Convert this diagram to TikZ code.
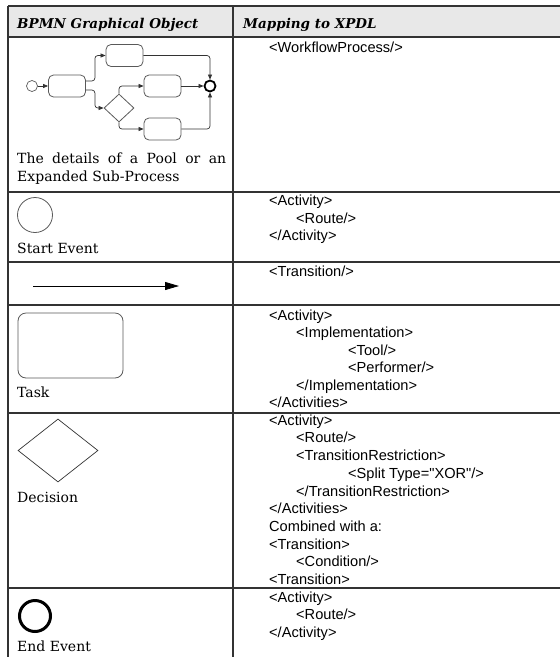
\documentclass[tikz,border=0pt]{standalone}
\usepackage{fontspec}
\newfontfamily\xpdlfont{Liberation Sans}
\newfontfamily\bpmnfont{DejaVu Serif}
\usepackage{tikz}
\usetikzlibrary{arrows.meta, shapes.geometric}

\newcommand{\indA}{\hspace*{27pt}}
\newcommand{\indB}{\hspace*{79pt}}

\tikzset{
  grid/.style={line width=1.1pt, draw=black!80},
  head/.style={anchor=base west, inner sep=0pt, font=\bpmnfont\fontsize{13.5}{16}\selectfont\bfseries\itshape},
  bpmnlabel/.style={anchor=base west, inner sep=0pt, font=\bpmnfont\fontsize{14}{18}\selectfont},
  xpdl/.style={anchor=north west, inner sep=0pt, align=left, font=\xpdlfont\fontsize{14.6}{17.5}\selectfont},
  task/.style={draw=black!65, line width=0.8pt, rounded corners=5pt, minimum width=37pt, minimum height=22pt, inner sep=0pt},
  flow/.style={draw=black!80, line width=0.7pt, rounded corners=3pt, -{Triangle[length=5pt,width=4pt]}}
}

\begin{document}
\begin{tikzpicture}[x=1pt, y=-1pt]
\useasboundingbox (0,0) rectangle (560,657);

% table
\fill[black!9] (8,6) rectangle (560,37);
\draw[grid] (8,6) -- (560,6);
\draw[grid] (8,6) -- (8,657);
\draw[grid] (233,6) -- (233,657);
\foreach \y in {37,192,262,305,413,588}
    \draw[grid] (8,\y) -- (560,\y);

\node[head] (hobj) at (17,28) {BPMN Graphical Object};
\node[head] (hmap) at (243,28) {Mapping to XPDL};

% pool / sub-process
\begin{scope}
    \node[circle, draw=black!65, line width=0.7pt, minimum size=11pt, inner sep=0pt] (st) at (32,86) {};
    \node[task] (t1) at (67,86) {};
    \node[task] (t2) at (124.5,55.5) {};
    \node[task] (t3) at (162.5,86) {};
    \node[task] (t4) at (162.5,129) {};
    \node[diamond, draw=black!65, line width=0.8pt, minimum width=30pt, minimum height=28pt, inner sep=0pt] (dec) at (119,108) {};
    \node[circle, draw=black, line width=1.8pt, minimum size=11pt, inner sep=0pt] (endev) at (210,86) {};

    \path[flow] (st) -- (t1);
    \path[flow] ([yshift=5pt]t1.east) -- ++(9,0) |- (t2.west);
    \path[flow] ([yshift=-4pt]t1.east) -- ++(9,0) |- (dec.west);
    \path[flow] (dec.north) |- (t3.west);
    \path[flow] (dec.south) |- (t4.west);
    \path[flow] (t3) -- (endev);
    \path[flow] (t2.east) -| (endev.north);
    \path[flow] (t4.east) -| (endev.south);
\end{scope}
\node[anchor=north west, inner sep=0pt, text width=209pt, align=justify,
      font=\bpmnfont\fontsize{14}{18}\selectfont] (lpool) at (17,152.5)
      {The details of a Pool or an\linebreak Expanded Sub-Process};

% start event
\node[circle, draw=black!65, line width=0.8pt, minimum size=35pt, inner sep=0pt] (sev) at (35,215) {};
\node[bpmnlabel] (lstart) at (17,253.5) {Start Event};

% sequence flow
\coordinate (fa) at (33,286);
\coordinate (fb) at (179,286);
\draw[line width=0.8pt, -{Triangle[length=14pt,width=8pt]}] (fa) -- (fb);

% task
\node[draw=black!65, line width=0.8pt, rounded corners=8pt, minimum width=105pt, minimum height=65pt] (tk) at (70.5,345.5) {};
\node[bpmnlabel] (ltask) at (17,397) {Task};

% decision
\node[diamond, draw=black!80, line width=0.7pt, minimum width=80pt, minimum height=63pt, inner sep=0pt] (gw) at (58,450.5) {};
\node[bpmnlabel] (ldec) at (17,502) {Decision};

% end event
\node[circle, draw=black, line width=3pt, minimum size=31pt, inner sep=0pt] (eev) at (35,616) {};
\node[bpmnlabel] (lend) at (17,651) {End Event};

% xpdl mapping
\node[xpdl] (m1) at (269,42) {<WorkflowProcess/>};
\node[xpdl] (m2) at (269,195) {<Activity>\\ \indA<Route/>\\ </Activity>};
\node[xpdl] (m3) at (269,266) {<Transition/>};
\node[xpdl] (m4) at (269,309.3) {<Activity>\\ \indA<Implementation>\\ \indB<Tool/>\\
    \indB<Performer/>\\ \indA</Implementation>\\ </Activities>};
\node[xpdl, font=\xpdlfont\fontsize{14.6}{17.7}\selectfont] (m5) at (269,414.5) {<Activity>\\ \indA<Route/>\\ \indA<TransitionRestriction>\\
    \indB<Split Type="XOR"/>\\ \indA</TransitionRestriction>\\ </Activities>\\
    Combined with a:\\ <Transition>\\ \indA<Condition/>\\ <Transition>};
\node[xpdl] (m6) at (269,591.7) {<Activity>\\ \indA<Route/>\\ </Activity>};
\end{tikzpicture}
\end{document}
